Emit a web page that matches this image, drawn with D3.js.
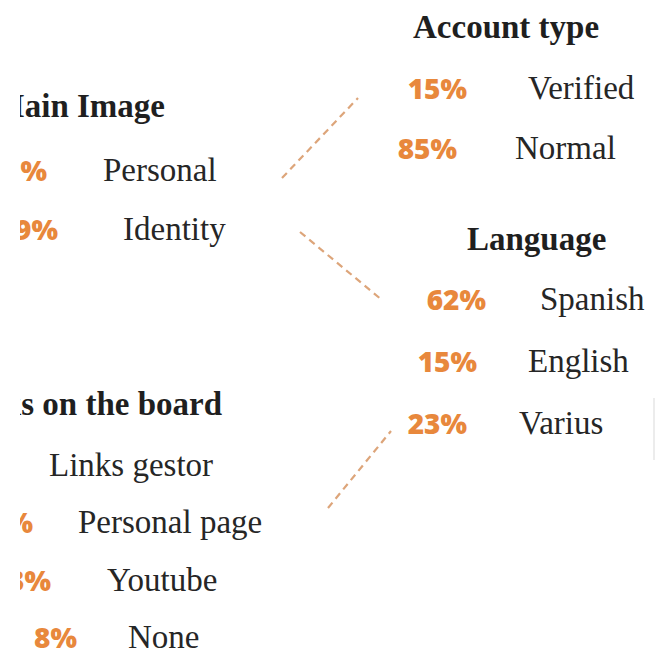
<!DOCTYPE html>
<html>
<head>
<meta charset="utf-8">
<script src="https://cdn.jsdelivr.net/npm/d3@7/dist/d3.min.js"></script>
<style>
  html, body { margin: 0; padding: 0; background: #fff; }
  svg { display: block; }
</style>
</head>
<body>
<svg id="chart" width="658" height="652"></svg>
<script>
// ---- data ----
const groupTitles = ["Account type", "Language", "Main Image", "Links on the board"];
const accountLabels = ["Verified", "Normal"];
const accountValues = [15, 85];
const languageLabels = ["Spanish", "English", "Varius"];
const languageValues = [62, 15, 23];
const imageLabels = ["Personal", "Identity"];
const imageValues = [31, 69];
const linksLabels = ["Links gestor", "Personal page", "Youtube", "None"];
const linksValues = [41, 18, 33, 8];

// ---- layout (positions / styles only) ----
const W = 658, H = 652;
const clipLeft = 20;   // the reference is cropped: nothing shows left of this
const layout = [
  { title: groupTitles[0], labels: accountLabels, values: accountValues,
    titleX: 413, titleAnchor: "start", titleY: 38, y0: 99, step: 60,
    pctRight: [467, 457], labelLeft: [528, 515] },
  { title: groupTitles[1], labels: languageLabels, values: languageValues,
    titleX: 467, titleAnchor: "start", titleY: 250, y0: 310, step: 62,
    pctRight: [486, 477, 467], labelLeft: [540, 528, 519] },
  { title: groupTitles[2], labels: imageLabels, values: imageValues,
    titleX: 165, titleAnchor: "end", titleY: 117, y0: 181, step: 59,
    pctRight: [47, 58], labelLeft: [103, 123] },
  { title: groupTitles[3], labels: linksLabels, values: linksValues,
    titleX: 222, titleAnchor: "end", titleY: 415, y0: 476, step: 57.3,
    pctRight: [10, 33, 51, 77], labelLeft: [49, 78, 107, 128] }
];
const connectors = [
  [[282, 178], [358, 98]],
  [[300, 232], [382, 300]],
  [[328, 508], [391, 431]]
];

const orange = "#E8883C";
const dashColor = "#DDA57A";
const textColor = "#262626";

const svg = d3.select("#chart");

svg.append("defs").append("clipPath").attr("id", "crop")
  .append("rect").attr("x", clipLeft).attr("y", 0)
  .attr("width", W - clipLeft).attr("height", H);

const root = svg.append("g").attr("clip-path", "url(#crop)");

// dashed connectors
root.append("g").selectAll("path")
  .data(connectors)
  .join("path")
  .attr("d", d => d3.line()(d))
  .attr("fill", "none")
  .attr("stroke", dashColor)
  .attr("stroke-width", 2.2)
  .attr("stroke-dasharray", "7,5");

// faint edge mark at right
root.append("line")
  .attr("x1", 654).attr("x2", 654).attr("y1", 398).attr("y2", 460)
  .attr("stroke", "#e6e6e6").attr("stroke-width", 1.5);

const fmt = d => d + "%";

layout.forEach(g => {
  const y = d3.scaleLinear().domain([0, 1]).range([g.y0, g.y0 + g.step]);
  const gg = root.append("g");

  gg.append("text")
    .attr("x", g.titleX)
    .attr("y", g.titleY)
    .attr("text-anchor", g.titleAnchor)
    .attr("font-family", "'Liberation Serif', 'Times New Roman', serif")
    .attr("font-weight", "bold")
    .attr("font-size", 33)
    .attr("fill", "#1f1f1f")
    .text(g.title);

  const rows = g.values.map((v, i) => ({ v, label: g.labels[i], i }));

  gg.selectAll("text.pct")
    .data(rows)
    .join("text")
    .attr("class", "pct")
    .attr("x", d => g.pctRight[d.i])
    .attr("y", d => y(d.i))
    .attr("text-anchor", "end")
    .attr("font-family", "'Open Sans', 'Noto Sans', sans-serif")
    .attr("font-weight", 800)
    .attr("font-size", 28)
    .attr("fill", orange)
    .text(d => fmt(d.v));

  gg.selectAll("text.lab")
    .data(rows)
    .join("text")
    .attr("class", "lab")
    .attr("x", d => g.labelLeft[d.i])
    .attr("y", d => y(d.i))
    .attr("text-anchor", "start")
    .attr("font-family", "'Liberation Serif', 'Times New Roman', serif")
    .attr("font-size", 33)
    .attr("fill", textColor)
    .text(d => d.label);
});
</script>
</body>
</html>
